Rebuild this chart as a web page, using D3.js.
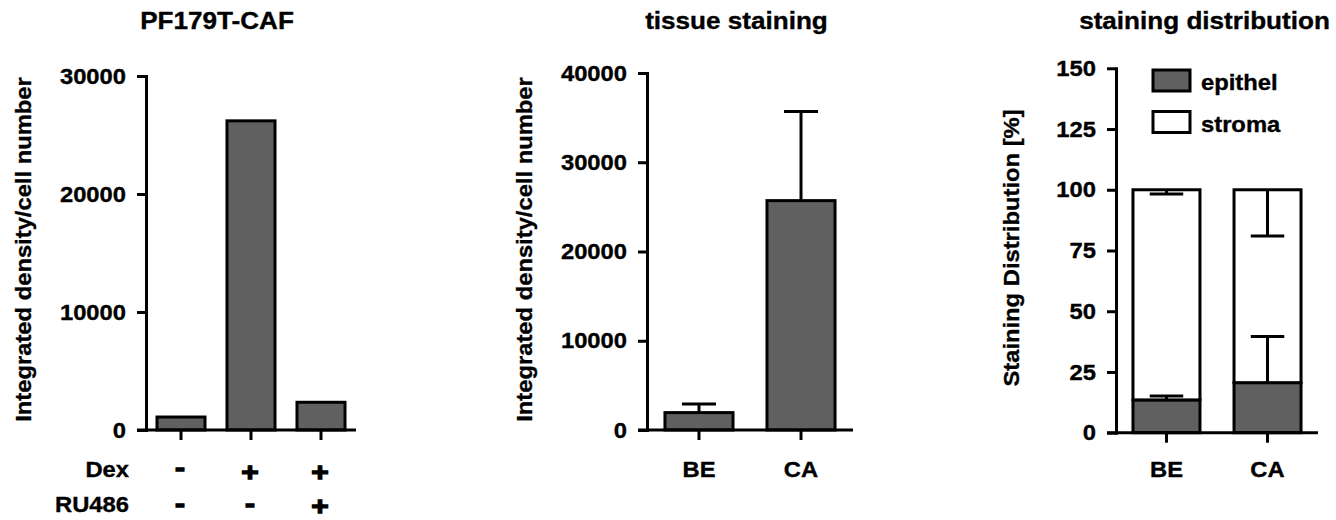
<!DOCTYPE html>
<html>
<head>
<meta charset="utf-8">
<script src="https://cdn.jsdelivr.net/npm/d3@7"></script>
<style>
  body { margin: 0; background: #fff; }
  text { font-family: "Liberation Sans", Arial, sans-serif; font-weight: bold; fill: #000; stroke: #000; stroke-width: 0.35px; }
  text.sign { stroke-width: 1.3px; }
</style>
</head>
<body>
<script>
// panel 1 - PF179T-CAF
let cafGroups = ["ctrl", "dex", "dexRu"];
let cafValues = [1100, 26200, 2350];
let dexRow = ["-", "+", "+"];
let ruRow = ["-", "-", "+"];
let cafTicks = [0, 10000, 20000, 30000];

// panel 2 - tissue staining
let tissueGroups = ["BE", "CA"];
let tissueMean = [1950, 25700];
let tissueErr = [970, 10000];
let tissueTicks = [0, 10000, 20000, 30000, 40000];

// panel 3 - staining distribution
let distGroups = ["BE", "CA"];
let epithelMean = [13.5, 20.6];
let epithelErr = [1.6, 19];
let stromaMean = [86.5, 79.4];
let stromaErr = [1.7, 19];
let distTicks = [0, 25, 50, 75, 100, 125, 150];
let legendItems = ["epithel", "stroma"];

let barFill = "#606060";
let lw = 3;

let svg = d3.select("body").append("svg").attr("width", 1336).attr("height", 520);

// y axis + x axis line, prism style
let drawAxes = (g, x, y, ticks) => {
  let yAxis = d3.axisLeft(y).tickValues(ticks).tickFormat(d3.format("d"))
    .tickSize(9).tickSizeOuter(0).tickPadding(11);
  let ya = g.append("g").attr("transform", "translate(" + x.range()[0] + ",0)").call(yAxis);
  ya.selectAll("text").style("font-size", "22px").attr("class", "t");
  let xAxis = d3.axisBottom(x).tickSize(10).tickSizeOuter(0).tickFormat("");
  let xa = g.append("g").attr("transform", "translate(0," + y(0) + ")").call(xAxis);
  xa.select(".domain").attr("d", "M" + (x.range()[0] - 9) + ",0H" + x.range()[1]);
  g.selectAll(".domain, .tick line").attr("stroke", "#000").attr("stroke-width", lw);
  ya.select(".domain").attr("stroke-linecap", "square");
};

let addTitle = (text, cx) => {
  svg.append("text").attr("class", "title").attr("x", cx).attr("y", 29)
    .attr("text-anchor", "middle").style("font-size", "23.5px").text(text);
};

let addYLabel = (text, bx, cy) => {
  svg.append("text").attr("class", "t")
    .attr("transform", "translate(" + bx + "," + cy + ") rotate(-90)")
    .attr("text-anchor", "middle").style("font-size", "22px").text(text);
};

let errorBar = (g, cx, y0, y1, capW) => {
  g.append("line").attr("x1", cx).attr("x2", cx).attr("y1", y0).attr("y2", y1)
    .attr("stroke", "#000").attr("stroke-width", lw);
  g.append("line").attr("x1", cx - capW / 2).attr("x2", cx + capW / 2).attr("y1", y1).attr("y2", y1)
    .attr("stroke", "#000").attr("stroke-width", lw);
};

// ---------- panel 1
let drawCaf = () => {
  let g = svg.append("g");
  let x = d3.scaleBand().domain(cafGroups).range([146, 356]).paddingInner(0.314).paddingOuter(0.157);
  let y = d3.scaleLinear().domain([0, 30000]).range([430, 76]);

  g.selectAll("rect").data(cafValues).enter().append("rect")
    .attr("x", (d, i) => x(cafGroups[i]))
    .attr("width", x.bandwidth())
    .attr("y", (d) => y(d))
    .attr("height", (d) => y(0) - y(d))
    .attr("fill", barFill).attr("stroke", "#000").attr("stroke-width", lw);

  drawAxes(g, x, y, cafTicks);

  // label, signs, label baseline, "+" baseline, "-" baseline
  let rows = [["Dex", dexRow, 477, 480.5, 475.5], ["RU486", ruRow, 512, 514.5, 512]];
  rows.forEach((r) => {
    g.append("text").attr("class", "t").attr("x", 129).attr("y", r[2])
      .attr("text-anchor", "end").style("font-size", "22px").text(r[0]);
    g.selectAll(null).data(r[1]).enter().append("text").attr("class", "sign")
      .attr("x", (d, i) => x(cafGroups[i]) + x.bandwidth() / 2 - 1)
      .attr("y", (d) => (d === "+" ? r[3] : r[4]))
      .attr("text-anchor", "middle").style("font-size", "26px")
      .text((d) => d);
  });

  addTitle("PF179T-CAF", 217);
  addYLabel("Integrated density/cell number", 31, 249.5);
};

// ---------- panel 2
let drawTissue = () => {
  let g = svg.append("g");
  let x = d3.scaleBand().domain(tissueGroups).range([647, 853]).paddingInner(0.333).paddingOuter(0.176);
  let y = d3.scaleLinear().domain([0, 40000]).range([430, 73]);

  tissueMean.forEach((m, i) => {
    let cx = x(tissueGroups[i]) + x.bandwidth() / 2;
    errorBar(g, cx, y(m), y(m + tissueErr[i]), x.bandwidth() / 2);
  });

  g.selectAll("rect").data(tissueMean).enter().append("rect")
    .attr("x", (d, i) => x(tissueGroups[i]))
    .attr("width", x.bandwidth())
    .attr("y", (d) => y(d))
    .attr("height", (d) => y(0) - y(d))
    .attr("fill", barFill).attr("stroke", "#000").attr("stroke-width", lw);

  drawAxes(g, x, y, tissueTicks);

  g.selectAll(null).data(tissueGroups).enter().append("text").attr("class", "t")
    .attr("x", (d) => x(d) + x.bandwidth() / 2).attr("y", 477)
    .attr("text-anchor", "middle").style("font-size", "22px").text((d) => d);

  addTitle("tissue staining", 736.5);
  addYLabel("Integrated density/cell number", 532, 249.5);
};

// ---------- panel 3
let drawDist = () => {
  let g = svg.append("g");
  let x = d3.scaleBand().domain(distGroups).range([1116, 1318]).paddingInner(0.337).paddingOuter(0.168);
  let y = d3.scaleLinear().domain([0, 150]).range([432.7, 68.3]);

  g.selectAll("rect.epi").data(epithelMean).enter().append("rect").attr("class", "epi")
    .attr("x", (d, i) => x(distGroups[i]))
    .attr("width", x.bandwidth())
    .attr("y", (d) => y(d))
    .attr("height", (d) => y(0) - y(d))
    .attr("fill", barFill).attr("stroke", "#000").attr("stroke-width", lw);

  g.selectAll("rect.str").data(stromaMean).enter().append("rect").attr("class", "str")
    .attr("x", (d, i) => x(distGroups[i]))
    .attr("width", x.bandwidth())
    .attr("y", (d, i) => y(epithelMean[i] + d))
    .attr("height", (d, i) => y(epithelMean[i]) - y(epithelMean[i] + d))
    .attr("fill", "#fff").attr("stroke", "#000").attr("stroke-width", lw);

  distGroups.forEach((gr, i) => {
    let cx = x(gr) + x.bandwidth() / 2;
    let top = epithelMean[i] + stromaMean[i];
    errorBar(g, cx, y(epithelMean[i]), y(epithelMean[i] + epithelErr[i]), x.bandwidth() / 2);
    errorBar(g, cx, y(top), y(top - stromaErr[i]), x.bandwidth() / 2);
  });

  drawAxes(g, x, y, distTicks);

  g.selectAll(null).data(distGroups).enter().append("text").attr("class", "t")
    .attr("x", (d) => x(d) + x.bandwidth() / 2).attr("y", 477)
    .attr("text-anchor", "middle").style("font-size", "22px").text((d) => d);

  // legend
  let lg = g.append("g").attr("transform", "translate(1153,70)");
  lg.selectAll("rect").data(legendItems).enter().append("rect")
    .attr("x", 0).attr("y", (d, i) => i * 41.5)
    .attr("width", 37).attr("height", 21)
    .attr("fill", (d, i) => (i === 0 ? barFill : "#fff"))
    .attr("stroke", "#000").attr("stroke-width", lw);
  lg.selectAll("text").data(legendItems).enter().append("text").attr("class", "t")
    .attr("x", 48).attr("y", (d, i) => 20 + i * 42)
    .style("font-size", "22px").text((d) => d);

  addTitle("staining distribution", 1204.5);
  addYLabel("Staining Distribution [%]", 1019, 248);
};

drawCaf();
drawTissue();
drawDist();

// the original font runs a bit wider than Liberation Sans
let stretch = (sel, k) => {
  sel.each(function () {
    let len = this.getComputedTextLength();
    if (len > 0) {
      this.setAttribute("textLength", len * k);
      this.setAttribute("lengthAdjust", "spacingAndGlyphs");
    }
  });
};
stretch(svg.selectAll("text.t"), 1.08);
stretch(svg.selectAll("text.title"), 1.11);
stretch(svg.selectAll("text.sign"), 1.15);
</script>
</body>
</html>
